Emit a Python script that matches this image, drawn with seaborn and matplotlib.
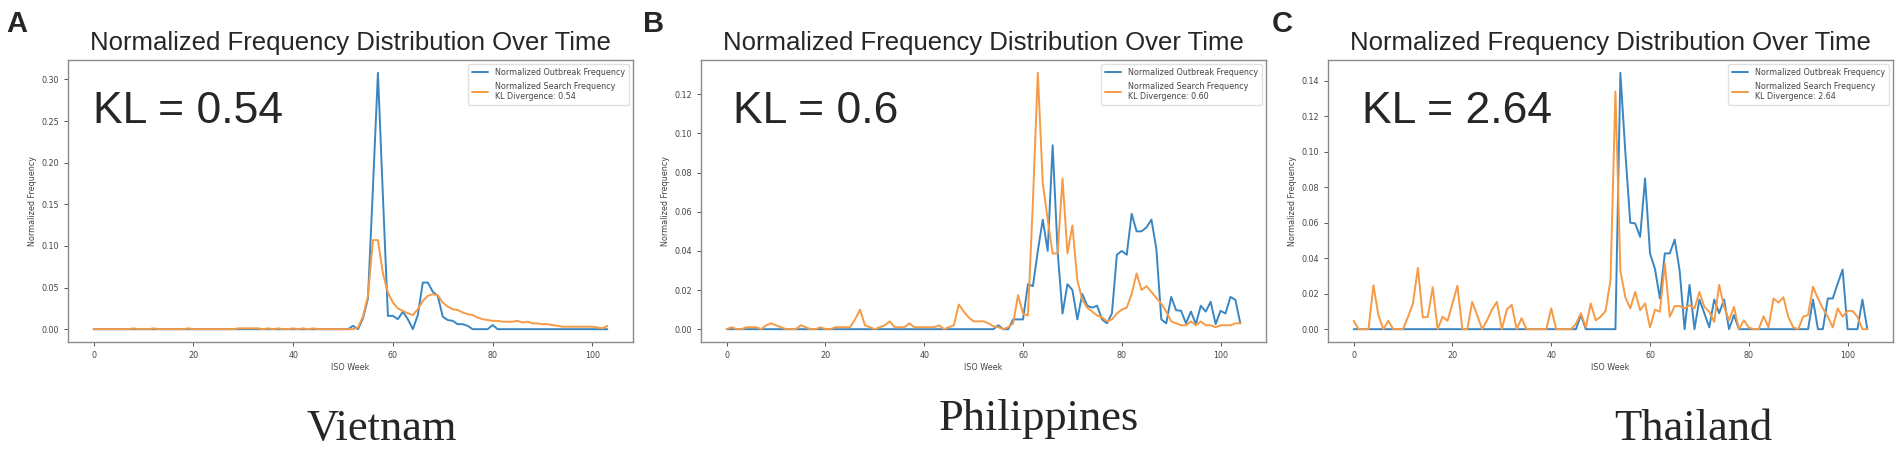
import numpy as np
import pandas as pd
import matplotlib
matplotlib.use("Agg")
import matplotlib.pyplot as plt
import seaborn as sns

# ---------------- data ----------------
# Vietnam (weeks 0..103)
vn_outbreak = [0]*52 + [
    0.004, 0.000, 0.013, 0.037, 0.170, 0.308, 0.160, 0.016, 0.016, 0.012,
    0.021, 0.012, 0.000, 0.017, 0.056, 0.056, 0.045, 0.040, 0.015, 0.011,
    0.010, 0.006, 0.006, 0.004, 0.000, 0.000, 0.000, 0.000, 0.005, 0.000,
] + [0]*22
vn_search = [
    0.000, 0.000, 0.000, 0.000, 0.000, 0.000, 0.000, 0.000, 0.001, 0.000,
    0.000, 0.000, 0.001, 0.000, 0.000, 0.000, 0.000, 0.000, 0.000, 0.001,
    0.000, 0.000, 0.000, 0.000, 0.000, 0.000, 0.000, 0.000, 0.000, 0.001,
    0.001, 0.001, 0.001, 0.001, 0.000, 0.001, 0.000, 0.001, 0.000, 0.000,
    0.001, 0.000, 0.001, 0.000, 0.001, 0.000, 0.000, 0.000, 0.000, 0.000,
    0.000, 0.000, 0.000, 0.002, 0.015, 0.040, 0.107, 0.107, 0.067, 0.044,
    0.032, 0.025, 0.022, 0.019, 0.017, 0.024, 0.034, 0.040, 0.042, 0.041,
    0.032, 0.027, 0.024, 0.023, 0.020, 0.018, 0.017, 0.014, 0.012, 0.011,
    0.010, 0.010, 0.009, 0.009, 0.009, 0.010, 0.008, 0.009, 0.007, 0.007,
    0.006, 0.006, 0.005, 0.004, 0.003, 0.003, 0.003, 0.003, 0.003, 0.003,
    0.003, 0.002, 0.001, 0.004,
]

# Philippines (weeks 0..104)
ph_outbreak = [0]*55 + [
    0.002, 0.000, 0.000, 0.005, 0.005, 0.005, 0.023, 0.022, 0.040, 0.056,
    0.040, 0.094, 0.040, 0.008, 0.023, 0.020, 0.005, 0.018, 0.012, 0.011,
    0.012, 0.005, 0.003, 0.008, 0.038, 0.040, 0.038, 0.059, 0.050, 0.050,
    0.052, 0.056, 0.041, 0.005, 0.003, 0.0165, 0.0097, 0.0094, 0.003, 0.009,
    0.0026, 0.012, 0.009, 0.014, 0.0026, 0.0094, 0.008, 0.0165, 0.015, 0.003,
]
ph_search = [
    0.000, 0.001, 0.000, 0.000, 0.001, 0.001, 0.001, 0.000, 0.002, 0.003,
    0.002, 0.001, 0.000, 0.000, 0.000, 0.002, 0.001, 0.000, 0.000, 0.001,
    0.000, 0.000, 0.001, 0.001, 0.001, 0.001, 0.005, 0.010, 0.002, 0.001,
    0.000, 0.001, 0.002, 0.004, 0.001, 0.001, 0.001, 0.003, 0.001, 0.001,
    0.001, 0.001, 0.001, 0.002, 0.000, 0.001, 0.002, 0.0126, 0.009, 0.006,
    0.004, 0.004, 0.004, 0.003, 0.0015, 0.001, 0.000, 0.001, 0.003, 0.0174,
    0.008, 0.007, 0.065, 0.131, 0.0745, 0.056, 0.0387, 0.0387, 0.077, 0.0387,
    0.053, 0.025, 0.015, 0.011, 0.009, 0.007, 0.006, 0.004, 0.005, 0.008,
    0.010, 0.011, 0.018, 0.0285, 0.020, 0.022, 0.019, 0.016, 0.013, 0.009,
    0.004, 0.003, 0.002, 0.002, 0.004, 0.002, 0.004, 0.002, 0.002, 0.001,
    0.002, 0.002, 0.002, 0.003, 0.003,
]

# Thailand (weeks 0..104)
th_outbreak = [0]*46 + [
    0.008, 0.000, 0.000, 0.000, 0.000, 0.000, 0.000, 0.000, 0.1445, 0.100,
    0.060, 0.0596, 0.052, 0.085, 0.0427, 0.034, 0.0173, 0.0427, 0.0427, 0.0505,
    0.033, 0.000, 0.025, 0.000, 0.0167, 0.009, 0.001, 0.0167, 0.009, 0.0167,
    0.000, 0.008, 0.000, 0.000, 0.000, 0.000, 0.000, 0.000, 0.000, 0.000,
    0.000, 0.000, 0.000, 0.000, 0.000, 0.000, 0.000, 0.0167, 0.000, 0.000,
    0.0173, 0.0173, 0.0257, 0.0336, 0.000, 0.000, 0.000, 0.0167, 0.000,
]
th_search = [
    0.0047, 0.000, 0.000, 0.000, 0.0248, 0.0079, 0.000, 0.0047, 0.000, 0.000,
    0.000, 0.007, 0.0145, 0.0345, 0.0066, 0.007, 0.0237, 0.000, 0.007, 0.0047,
    0.0145, 0.0245, 0.000, 0.000, 0.0154, 0.008, 0.000, 0.005, 0.011, 0.0154,
    0.000, 0.011, 0.0137, 0.000, 0.0062, 0.000, 0.000, 0.000, 0.000, 0.000,
    0.0117, 0.000, 0.000, 0.000, 0.000, 0.003, 0.009, 0.001, 0.0145, 0.005,
    0.007, 0.0103, 0.0276, 0.134, 0.033, 0.018, 0.0117, 0.021, 0.0107, 0.0145,
    0.001, 0.011, 0.0098, 0.037, 0.007, 0.013, 0.013, 0.0117, 0.0135, 0.0117,
    0.021, 0.0126, 0.0098, 0.004, 0.025, 0.0126, 0.005, 0.0126, 0.000, 0.005,
    0.001, 0.000, 0.000, 0.0073, 0.001, 0.0173, 0.015, 0.018, 0.007, 0.001,
    0.000, 0.007, 0.008, 0.024, 0.0173, 0.0117, 0.007, 0.001, 0.0117, 0.007,
    0.0103, 0.0103, 0.007, 0.000, 0.000,
]

countries = ["Vietnam", "Philippines", "Thailand"]
panel_letters = ["A", "B", "C"]
kl_texts = ["KL = 0.54", "KL = 0.6", "KL = 2.64"]
kl_legend = ["0.54", "0.60", "2.64"]
outbreak_series = [vn_outbreak, ph_outbreak, th_outbreak]
search_series = [vn_search, ph_search, th_search]

title_text = "Normalized Frequency Distribution Over Time"
xlabel_text = "ISO Week"
ylabel_text = "Normalized Frequency"
outbreak_label = "Normalized Outbreak Frequency"

# ---------------- style ----------------
sns.set_theme(style="white")
plt.rcParams["font.family"] = ["DejaVu Sans"]
plt.rcParams["axes.edgecolor"] = "#8a8a8a"
plt.rcParams["axes.linewidth"] = 1.0
plt.rcParams["xtick.bottom"] = True
plt.rcParams["ytick.left"] = True
plt.rcParams["xtick.color"] = "#555555"
plt.rcParams["ytick.color"] = "#555555"
plt.rcParams["xtick.labelcolor"] = "#444444"
plt.rcParams["ytick.labelcolor"] = "#444444"
plt.rcParams["xtick.major.size"] = 3
plt.rcParams["ytick.major.size"] = 3
plt.rcParams["xtick.major.width"] = 0.7
plt.rcParams["ytick.major.width"] = 0.7

W, H = 1901, 449
fig = plt.figure(figsize=(W / 100, H / 100), dpi=100)

blue = "#3a86c2"
orange = "#f69a45"
small = 5.8

ax_lefts = [68, 701, 1328]
ax_w, ax_top, ax_bot = 565, 60, 342
kl_x = [0.044, 0.057, 0.060]
letter_x = [6, 643, 1272]
country_x = [382, 1039, 1693]
country_base = [440, 430, 440]

for i in range(3):
    ax = fig.add_axes([ax_lefts[i] / W, (H - ax_bot) / H, ax_w / W, (ax_bot - ax_top) / H])
    ob = outbreak_series[i]
    se = search_series[i]
    search_label = "Normalized Search Frequency\nKL Divergence: " + kl_legend[i]
    df = pd.DataFrame({
        "week": list(range(len(ob))) + list(range(len(se))),
        "value": list(ob) + list(se),
        "series": [outbreak_label] * len(ob) + [search_label] * len(se),
    })
    sns.lineplot(data=df, x="week", y="value", hue="series",
                 palette={outbreak_label: blue, search_label: orange},
                 linewidth=1.4, ax=ax)
    for s in ax.spines.values():
        s.set_visible(True)
    ax.tick_params(labelsize=small)
    ax.set_xticks([0, 20, 40, 60, 80, 100])
    ax.set_xlabel(xlabel_text, fontsize=small, color="#444444", labelpad=2)
    ax.set_ylabel(ylabel_text, fontsize=small, color="#444444", labelpad=3)
    ax.set_title(title_text, fontsize=18.5, family=["Liberation Sans"], pad=7)
    leg = ax.legend(loc="upper right", fontsize=small, frameon=True,
                    handlelength=2.0, borderpad=0.5, labelspacing=0.6,
                    framealpha=0.9, edgecolor="#dddddd", fancybox=True)
    for t in leg.get_texts():
        t.set_color("#444444")
    ax.text(kl_x[i], 0.777, kl_texts[i], transform=ax.transAxes,
            fontsize=32, family=["Liberation Sans"], va="baseline", ha="left")
    fig.text(letter_x[i] / W, 1 - 32 / H, panel_letters[i], fontsize=21,
             fontweight="bold", family=["Liberation Sans"], va="baseline", ha="left")
    fig.text(country_x[i] / W, 1 - country_base[i] / H, countries[i], fontsize=32,
             family=["Liberation Serif"], va="baseline", ha="center")

fig.savefig("out.png", dpi=100)
